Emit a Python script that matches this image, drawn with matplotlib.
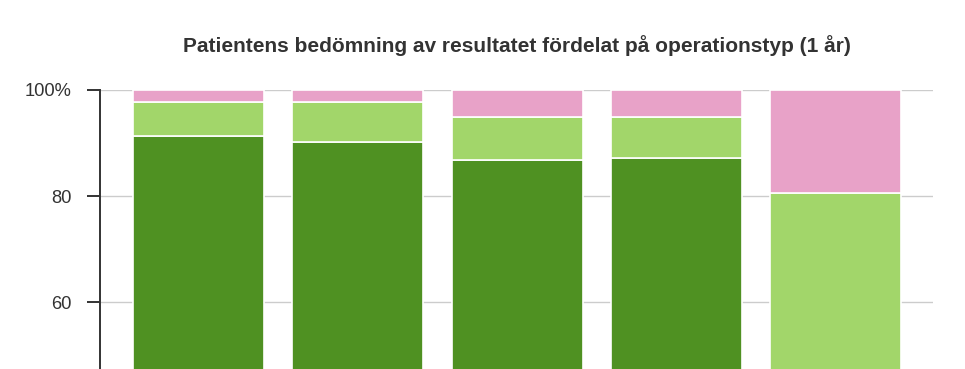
import numpy as np
import matplotlib.pyplot as plt

plt.rcParams['font.family'] = ['Liberation Sans', 'DejaVu Sans']

# values in percent, stacked bottom to top
categories = ['A', 'B', 'C', 'D', 'E']
battre = [91.3, 90.2, 86.8, 87.2, 0.0]
oforandrat = [6.4, 7.5, 8.1, 7.7, 80.6]
samre = [2.3, 2.3, 5.1, 5.1, 19.4]

colors = ['#4f9122', '#a2d66a', '#e8a2c8']

fig = plt.figure(figsize=(9.65, 3.69), dpi=100)
ax = fig.add_axes([100 / 965, 0, 833 / 965, 279 / 369])

x = np.arange(len(categories))
bottom = np.zeros(len(categories))
for vals, c in zip([battre, oforandrat, samre], colors):
    vals = np.array(vals)
    ax.bar(x, vals, width=0.823, bottom=bottom, color=c,
           edgecolor='white', linewidth=1.2, zorder=3)
    bottom += vals

ax.set_xlim(-0.619, 4.612)
ax.set_ylim(47.36, 100)
ax.set_yticks([60, 80, 100])
ax.set_yticklabels(['60', '80', '100%'])
ax.set_xticks([])
ax.yaxis.grid(True, color='#cccccc', linewidth=1, zorder=0)
for s in ['top', 'right', 'bottom']:
    ax.spines[s].set_visible(False)
ax.spines['left'].set_color('#333333')
ax.spines['left'].set_linewidth(1.4)
ax.spines['left'].set_zorder(4)
ax.tick_params(axis='y', length=9.4, width=1.4, color='#333333',
               labelsize=13.2, labelcolor='#333333', pad=11)

fig.text(517 / 965, 1 - 46 / 369,
         'Patientens bedömning av resultatet fördelat på operationstyp (1 år)',
         ha='center', va='center', fontsize=15, fontweight='bold', color='#333333')

fig.savefig('out.png', dpi=100)
